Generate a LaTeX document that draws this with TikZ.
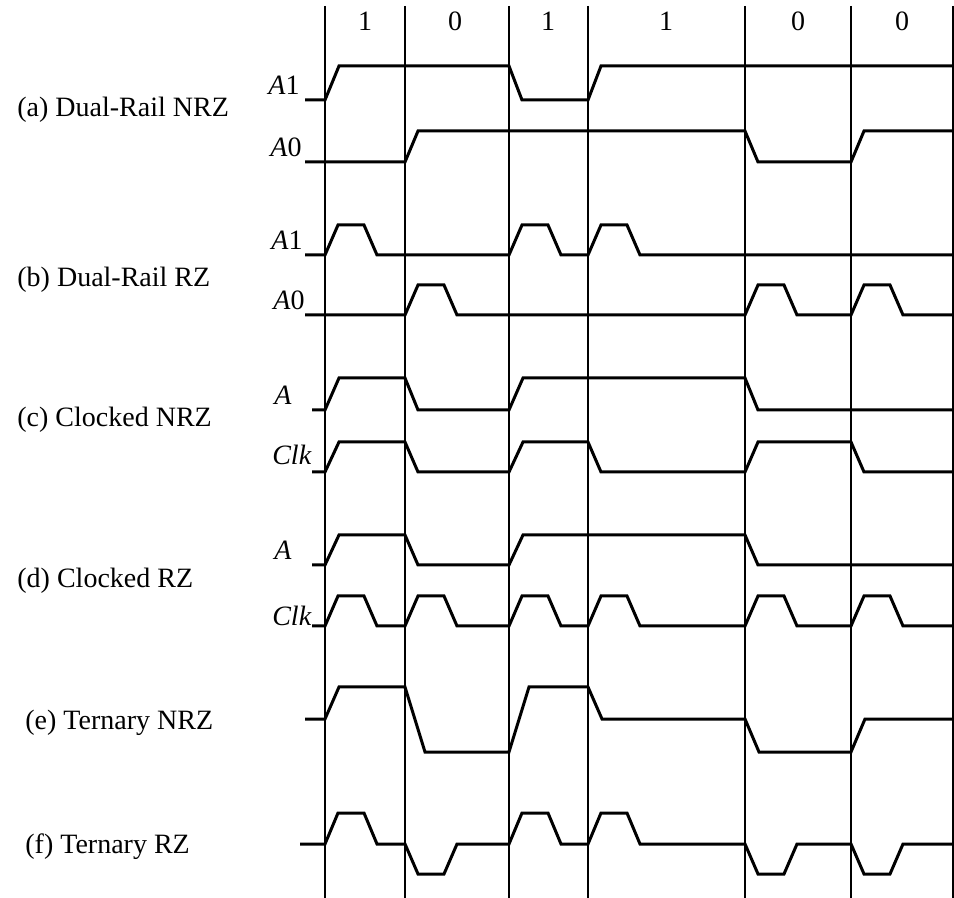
\documentclass[tikz,border=0pt]{standalone}
\usepackage{fontspec}
\setmainfont{Liberation Serif}

\begin{document}
\begin{tikzpicture}[x=0.5pt, y=-0.5pt,
    wave/.style={line width=1.5pt, line join=miter},
    grid/.style={line width=0.8pt},
    txt/.style={font=\fontsize{14}{17}\selectfont, inner sep=0pt},
    sig/.style={txt, anchor=base east}]
            \useasboundingbox (0,0) rectangle (954,898);

            % bit boundaries
            \draw[grid] (325,6) -- (325,898);
            \draw[grid] (405,6) -- (405,898);
            \draw[grid] (509,6) -- (509,898);
            \draw[grid] (588,6) -- (588,898);
            \draw[grid] (745,6) -- (745,898);
            \draw[grid] (851,6) -- (851,898);
            \draw[grid] (953,6) -- (953,898);

            \node[txt, anchor=base] (bit1) at (365,31) {1};
            \node[txt, anchor=base] (bit2) at (455,31) {0};
            \node[txt, anchor=base] (bit3) at (548,31) {1};
            \node[txt, anchor=base] (bit4) at (666,31) {1};
            \node[txt, anchor=base] (bit5) at (798,31) {0};
            \node[txt, anchor=base] (bit6) at (902,31) {0};

            % (a)
            \node[txt, anchor=base west] (capa) at (17,117) {(a) Dual-Rail NRZ};
            \node[sig] (a1) at (300,95) {\textit{A}1};
            \node[sig] (a0) at (302,157) {\textit{A}0};
            \draw[wave] (305,100) -- (325,100) -- (339,66) -- (509,66) -- (522,100) -- (588,100) -- (601,66) -- (954,66);
            \draw[wave] (305,162) -- (405,162) -- (418,131) -- (745,131) -- (758,162) -- (851,162) -- (864,131) -- (954,131);

            % (b)
            \node[txt, anchor=base west] (capb) at (17,287) {(b) Dual-Rail RZ};
            \node[sig] (b1) at (303,250) {\textit{A}1};
            \node[sig] (b0) at (305,310) {\textit{A}0};
            \draw[wave] (305,255) -- (325,255) -- (338,225) -- (364,225) -- (377,255) -- (509,255) -- (522,225) -- (548,225) -- (561,255)
                -- (588,255) -- (601,225) -- (627,225) -- (640,255) -- (954,255);
            \draw[wave] (305,315) -- (405,315) -- (418,285) -- (444,285) -- (457,315) -- (745,315) -- (758,285) -- (784,285) -- (797,315)
                -- (851,315) -- (864,285) -- (890,285) -- (903,315) -- (954,315);

            % (c)
            \node[txt, anchor=base west] (capc) at (17,427) {(c) Clocked NRZ};
            \node[sig] (ca) at (292,405) {\textit{A}};
            \node[sig] (cclk) at (312,465) {\textit{Clk}};
            \draw[wave] (312,410) -- (325,410) -- (339,378) -- (405,378) -- (418,410) -- (509,410) -- (523,378) -- (745,378) -- (758,410) -- (954,410);
            \draw[wave] (312,472) -- (325,472) -- (339,442) -- (405,442) -- (418,472) -- (509,472) -- (523,442) -- (588,442) -- (601,472)
                -- (745,472) -- (758,442) -- (851,442) -- (864,472) -- (954,472);

            % (d)
            \node[txt, anchor=base west] (capd) at (17,588) {(d) Clocked RZ};
            \node[sig] (da) at (292,560) {\textit{A}};
            \node[sig] (dclk) at (312,625) {\textit{Clk}};
            \draw[wave] (312,565) -- (325,565) -- (339,535) -- (405,535) -- (418,565) -- (509,565) -- (523,535) -- (745,535) -- (758,565) -- (954,565);
            \draw[wave] (312,626) -- (325,626) -- (338,596) -- (364,596) -- (377,626) -- (405,626) -- (418,596) -- (444,596) -- (457,626)
                -- (509,626) -- (522,596) -- (548,596) -- (561,626) -- (588,626) -- (601,596) -- (627,596) -- (640,626)
                -- (745,626) -- (758,596) -- (784,596) -- (797,626) -- (851,626) -- (864,596) -- (890,596) -- (903,626) -- (954,626);

            % (e)
            \node[txt, anchor=base west] (cape) at (25,729) {(e) Ternary NRZ};
            \draw[wave] (305,719) -- (325,719) -- (339,687) -- (405,687) -- (425,752) -- (509,752) -- (529,687) -- (588,687) -- (602,719)
                -- (745,719) -- (759,752) -- (851,752) -- (865,719) -- (954,719);

            % (f)
            \node[txt, anchor=base west] (capf) at (25,853) {(f) Ternary RZ};
            \draw[wave] (300,844) -- (325,844) -- (338,813) -- (364,813) -- (377,844) -- (405,844) -- (418,874) -- (444,874) -- (457,844)
                -- (509,844) -- (522,813) -- (548,813) -- (561,844) -- (588,844) -- (601,813) -- (627,813) -- (640,844)
                -- (745,844) -- (758,874) -- (784,874) -- (797,844) -- (851,844) -- (864,874) -- (890,874) -- (903,844) -- (954,844);
        \end{tikzpicture}
\end{document}
